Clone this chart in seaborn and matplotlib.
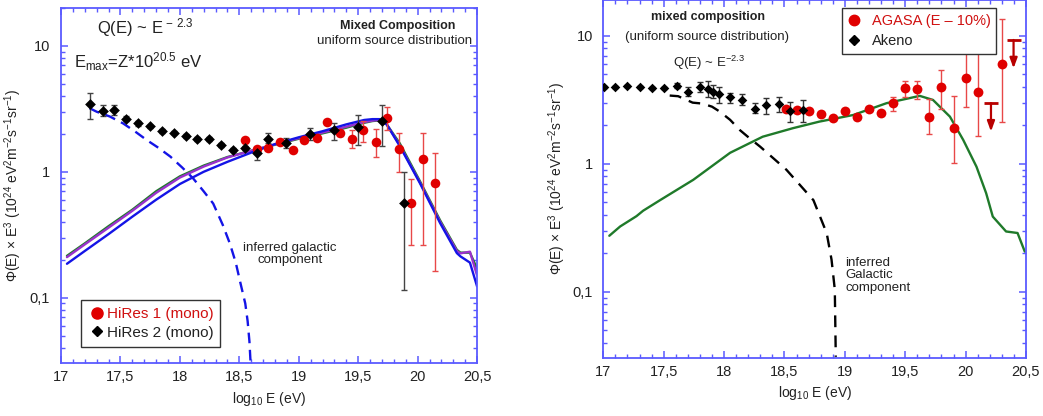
import matplotlib
matplotlib.use("Agg")
import numpy as np
import pandas as pd
import seaborn as sns
import matplotlib.pyplot as plt
from matplotlib.lines import Line2D
from matplotlib.ticker import MultipleLocator, LogLocator, FuncFormatter, NullFormatter

# ---------------- left panel: HiRes data and mixed-composition models ----------------
hires1_x = [18.548, 18.646, 18.744, 18.84, 18.95, 19.04, 19.15, 19.24, 19.35, 19.45,
            19.54, 19.65, 19.74, 19.845, 19.945, 20.047, 20.145]
hires1_y = [1.79, 1.51, 1.54, 1.74, 1.49, 1.79, 1.85, 2.49, 2.05, 1.82,
            2.13, 1.74, 2.66, 1.51, 0.565, 1.26, 0.81]
hires1_lo = [1.72, 1.45, 1.48, 1.67, 1.43, 1.72, 1.78, 2.40, 1.92, 1.54,
             1.74, 1.32, 2.15, 0.99, 0.26, 0.263, 0.162]
hires1_hi = [1.86, 1.57, 1.60, 1.81, 1.55, 1.86, 1.92, 2.58, 2.16, 2.13,
             2.51, 2.18, 3.30, 2.05, 0.875, 2.05, 1.42]

hires2_x = [17.244, 17.35, 17.446, 17.55, 17.648, 17.749, 17.85, 17.95, 18.049, 18.146,
            18.247, 18.343, 18.449, 18.548, 18.646, 18.744, 18.89, 19.094, 19.30, 19.50,
            19.697, 19.888]
hires2_y = [3.45, 3.06, 3.10, 2.65, 2.42, 2.29, 2.12, 2.05, 1.94, 1.82,
            1.82, 1.63, 1.49, 1.54, 1.41, 1.82, 1.69, 1.99, 2.13, 2.26,
            2.51, 0.565]
hires2_lo = [2.62, 2.75, 2.85, 2.55, 2.33, 2.21, 2.05, 1.98, 1.87, 1.75,
             1.75, 1.56, 1.43, 1.48, 1.245, 1.69, 1.54, 1.79, 1.79, 1.64,
             1.61, 0.116]
hires2_hi = [4.20, 3.42, 3.38, 2.75, 2.51, 2.37, 2.19, 2.12, 2.01, 1.89,
             1.89, 1.70, 1.55, 1.60, 1.54, 2.03, 1.85, 2.22, 2.46, 2.83,
             3.40, 1.0]

model_x = [17.05, 17.2, 17.4, 17.6, 17.8, 18.0, 18.2, 18.4, 18.6, 18.8,
           19.0, 19.2, 19.4, 19.55, 19.62, 19.68, 19.74, 19.85, 20.02, 20.19,
           20.33, 20.36, 20.44, 20.5]
model_green = [0.215, 0.27, 0.37, 0.50, 0.70, 0.92, 1.12, 1.31, 1.47, 1.64,
               1.83, 2.02, 2.24, 2.45, 2.53, 2.56, 2.38, 1.68, 0.84, 0.41,
               0.24, 0.228, 0.228, 0.17]
model_purple = [0.21, 0.265, 0.36, 0.49, 0.68, 0.90, 1.10, 1.30, 1.47, 1.65,
                1.85, 2.05, 2.28, 2.48, 2.55, 2.58, 2.38, 1.62, 0.82, 0.40,
                0.235, 0.225, 0.232, 0.15]
model_blue = [0.186, 0.235, 0.32, 0.44, 0.60, 0.80, 1.00, 1.20, 1.42, 1.66,
              1.88, 2.10, 2.38, 2.58, 2.62, 2.62, 2.38, 1.60, 0.81, 0.39,
              0.226, 0.213, 0.19, 0.123]

galL_x = [17.24, 17.3, 17.41, 17.52, 17.62, 17.72, 17.82, 17.92, 18.02, 18.11,
          18.2, 18.28, 18.36, 18.42, 18.47, 18.51, 18.55, 18.57, 18.585, 18.595]
galL_y = [3.2, 3.0, 2.75, 2.43, 2.1, 1.79, 1.55, 1.32, 1.08, 0.89,
          0.70, 0.56, 0.38, 0.27, 0.19, 0.13, 0.09, 0.065, 0.045, 0.03]

# ---------------- right panel: AGASA / Akeno ----------------
akeno_x = [17.005, 17.10, 17.20, 17.30, 17.405, 17.50, 17.607, 17.70, 17.80, 17.868,
           17.91, 17.957, 18.048, 18.15, 18.255, 18.345, 18.453, 18.55, 18.654]
akeno_y = [3.97, 3.97, 4.07, 3.97, 3.90, 3.90, 4.09, 3.63, 4.02, 3.85,
           3.67, 3.50, 3.32, 3.16, 2.67, 2.89, 2.94, 2.61, 2.64]
akeno_lo = [3.90, 3.90, 4.00, 3.90, 3.83, 3.83, 3.95, 3.40, 3.63, 3.36,
            3.30, 2.98, 3.01, 2.89, 2.49, 2.46, 2.56, 2.12, 2.14]
akeno_hi = [4.04, 4.04, 4.14, 4.04, 3.97, 3.97, 4.25, 3.98, 4.39, 4.47,
            4.10, 3.98, 3.60, 3.50, 2.98, 3.26, 3.32, 3.06, 3.16]

agasa_x = [18.51, 18.605, 18.70, 18.80, 18.90, 19.005, 19.10, 19.203, 19.30, 19.40,
           19.50, 19.60, 19.70, 19.80, 19.90, 20.00, 20.10, 20.30]
agasa_y = [2.67, 2.64, 2.59, 2.44, 2.30, 2.59, 2.32, 2.69, 2.49, 3.01,
           3.92, 3.85, 2.34, 4.02, 1.92, 4.67, 3.67, 5.99]
agasa_lo = [2.60, 2.57, 2.52, 2.37, 2.23, 2.52, 2.25, 2.62, 2.42, 2.60,
            3.36, 3.20, 1.72, 2.69, 1.01, 2.80, 1.66, 2.14]
agasa_hi = [2.74, 2.71, 2.66, 2.51, 2.37, 2.66, 2.39, 2.76, 2.56, 3.36,
            4.47, 4.47, 3.22, 5.42, 3.42, 9.0, 8.0, 13.6]

agasa_ul_x = [20.21, 20.397]
agasa_ul_y = [2.98, 9.3]

modelR_x = [17.05, 17.14, 17.275, 17.33, 17.47, 17.745, 18.05, 18.32, 18.57, 18.79,
            19.07, 19.345, 19.62, 19.73, 19.87, 19.98, 20.09, 20.17, 20.225, 20.335,
            20.43, 20.49]
modelR_y = [0.274, 0.324, 0.39, 0.43, 0.52, 0.75, 1.22, 1.63, 1.90, 2.14,
            2.41, 2.98, 3.40, 3.16, 2.34, 1.54, 0.95, 0.59, 0.387, 0.296,
            0.288, 0.206]

galR_x = [17.55, 17.62, 17.69, 17.74, 17.82, 17.90, 17.965, 18.05, 18.13, 18.21,
          18.30, 18.516, 18.74, 18.85, 18.89, 18.917, 18.925]
galR_y = [3.42, 3.38, 3.16, 3.01, 2.96, 2.80, 2.56, 2.21, 1.84, 1.59,
          1.36, 0.90, 0.52, 0.287, 0.178, 0.104, 0.031]

# ---------------- style ----------------
sns.set_style("ticks")
plt.rcParams["font.family"] = ["Liberation Sans", "DejaVu Sans"]
plt.rcParams["mathtext.fontset"] = "custom"
plt.rcParams["mathtext.rm"] = "Liberation Sans"
plt.rcParams["mathtext.it"] = "Liberation Sans:italic"
plt.rcParams["mathtext.bf"] = "Liberation Sans:bold"

FRAME = "#5a5aff"
TXT = "#222222"
RED = "#e00000"
RED_ERR = "#e84848"
DARK_RED = "#b80000"
GREEN = "#1f7a2a"
PURPLE = "#9a32cc"
BLUE = "#1414e6"

fig = plt.figure(figsize=(10.43, 4.16), dpi=100)
axL = fig.add_axes([0.0585, 0.1274, 0.3989, 0.8534])
axR = fig.add_axes([0.5784, 0.1401, 0.4053, 0.8599])

comma = FuncFormatter(lambda v, p: f"{v:g}".replace(".", ","))


def style_axes(ax, ylim, ypad):
    ax.set_yscale("log")
    ax.set_xlim(17, 20.5)
    ax.set_ylim(*ylim)
    ax.xaxis.set_major_locator(MultipleLocator(0.5))
    ax.xaxis.set_minor_locator(MultipleLocator(0.1))
    ax.xaxis.set_major_formatter(comma)
    ax.yaxis.set_major_locator(LogLocator(base=10))
    ax.yaxis.set_minor_locator(LogLocator(base=10, subs=np.arange(2, 10)))
    ax.yaxis.set_major_formatter(comma)
    ax.yaxis.set_minor_formatter(NullFormatter())
    for s in ax.spines.values():
        s.set_visible(True)
        s.set_color(FRAME)
        s.set_linewidth(1.3)
    ax.tick_params(which="both", direction="in", top=True, right=True,
                   color=FRAME, labelcolor=TXT, labelsize=10.5)
    ax.tick_params(which="major", length=5, width=1.1)
    ax.tick_params(which="minor", length=3, width=1.0)
    ax.tick_params(axis="x", which="major", pad=5)
    ax.tick_params(axis="y", which="major", pad=ypad)
    ax.set_xlabel(r"log$_{10}$ E (eV)", fontsize=10, color=TXT, labelpad=4)


def draw_errors(ax, x, y, lo, hi, color):
    y = np.asarray(y)
    err = np.vstack([y - np.asarray(lo), np.asarray(hi) - y])
    ax.errorbar(x, y, yerr=err, fmt="none", ecolor=color, elinewidth=1.0,
                capsize=2.5, capthick=1.0, zorder=3)


# ---------------- left panel ----------------
style_axes(axL, (0.0303, 20.0), 8)
axL.set_ylabel(r"$\Phi$(E) $\times$ E$^3$ (10$^{24}$ eV$^2$m$^{-2}$s$^{-1}$sr$^{-1}$)",
               fontsize=10, color=TXT, labelpad=4)

for vals, col in [(model_green, GREEN), (model_purple, PURPLE), (model_blue, BLUE)]:
    sns.lineplot(x=model_x, y=vals, ax=axL, color=col, lw=1.7, sort=False,
                 estimator=None, zorder=2)
sns.lineplot(x=galL_x, y=galL_y, ax=axL, color=BLUE, lw=1.7, sort=False,
             estimator=None, zorder=2, linestyle=(0, (4.5, 2.8)))

draw_errors(axL, hires1_x, hires1_y, hires1_lo, hires1_hi, RED_ERR)
draw_errors(axL, hires2_x, hires2_y, hires2_lo, hires2_hi, "#444444")
sns.scatterplot(x=hires1_x, y=hires1_y, ax=axL, color=RED, s=48, marker="o",
                linewidth=0, zorder=4)
sns.scatterplot(x=hires2_x, y=hires2_y, ax=axL, color="black", s=30, marker="D",
                linewidth=0, zorder=5)

axL.text(0.087, 0.944, r"Q(E) ~ E$^{\,-\,2.3}$", transform=axL.transAxes,
         fontsize=12, color=TXT, va="center", ha="left")
axL.text(0.031, 0.848, r"E$_{\rm max}$=Z*10$^{20.5}$ eV", transform=axL.transAxes,
         fontsize=12, color=TXT, va="center", ha="left")
axL.text(0.947, 0.949, "Mixed Composition", transform=axL.transAxes,
         fontsize=9, fontweight="bold", color=TXT, va="center", ha="right")
axL.text(0.988, 0.907, "uniform source distribution", transform=axL.transAxes,
         fontsize=9.5, color=TXT, va="center", ha="right")
axL.text(0.55, 0.307, "inferred galactic\ncomponent", transform=axL.transAxes,
         fontsize=9.5, color=TXT, va="center", ha="center", linespacing=1.05)

hL = [Line2D([], [], ls="none", marker="o", color=RED, markersize=8),
      Line2D([], [], ls="none", marker="D", color="black", markersize=5)]
legL = axL.legend(hL, ["HiRes 1 (mono)", "HiRes 2 (mono)"], loc="lower left",
                  bbox_to_anchor=(0.047, 0.046), borderaxespad=0, fontsize=11,
                  frameon=True, fancybox=False, edgecolor="#333333",
                  handlelength=1.19, handletextpad=0.06, labelspacing=0.3,
                  borderpad=0.45, framealpha=1.0)
legL.get_frame().set_linewidth(1.0)
legL.get_texts()[0].set_color("#d01010")
legL.get_texts()[1].set_color(TXT)

# ---------------- right panel ----------------
style_axes(axR, (0.0305, 19.1), 7.5)
axR.set_ylabel(r"$\Phi$(E) $\times$ E$^3$ (10$^{24}$ eV$^2$m$^{-2}$s$^{-1}$sr$^{-1}$)",
               fontsize=10, color=TXT, labelpad=3)

sns.lineplot(x=modelR_x, y=modelR_y, ax=axR, color=GREEN, lw=1.7, sort=False,
             estimator=None, zorder=2)
sns.lineplot(x=galR_x, y=galR_y, ax=axR, color="black", lw=1.7, sort=False,
             estimator=None, zorder=2, linestyle=(0, (5, 3.5)))

draw_errors(axR, agasa_x, agasa_y, agasa_lo, agasa_hi, RED_ERR)
draw_errors(axR, akeno_x, akeno_y, akeno_lo, akeno_hi, "#333333")
sns.scatterplot(x=agasa_x, y=agasa_y, ax=axR, color=RED, s=50, marker="o",
                linewidth=0, zorder=4)
sns.scatterplot(x=akeno_x, y=akeno_y, ax=axR, color="black", s=24, marker="D",
                linewidth=0, zorder=5)

# upper limits: bar at the limit, arrow pointing down
ARROW_FRAC = 0.6
sns.scatterplot(x=agasa_ul_x, y=agasa_ul_y, ax=axR, color=DARK_RED, s=110,
                marker="_", linewidth=2.0, zorder=4)
for ux, uy in zip(agasa_ul_x, agasa_ul_y):
    axR.annotate("", xy=(ux, uy * ARROW_FRAC), xytext=(ux, uy),
                 arrowprops=dict(arrowstyle="-|>,head_width=0.22,head_length=0.6",
                                 color=DARK_RED, lw=1.6, shrinkA=0, shrinkB=0),
                 zorder=4)

axR.text(0.248, 0.952, "mixed composition", transform=axR.transAxes,
         fontsize=9, fontweight="bold", color=TXT, va="center", ha="center")
axR.text(0.246, 0.897, "(uniform source distribution)", transform=axR.transAxes,
         fontsize=9.5, color=TXT, va="center", ha="center")
axR.text(0.25, 0.824, r"Q(E) ~ E$^{-2.3}$", transform=axR.transAxes,
         fontsize=9.5, color=TXT, va="center", ha="center")
axR.text(0.572, 0.231, "inferred\nGalactic\ncomponent", transform=axR.transAxes,
         fontsize=9.5, color=TXT, va="center", ha="left", linespacing=1.05)

hR = [Line2D([], [], ls="none", marker="o", color=RED, markersize=7.5),
      Line2D([], [], ls="none", marker="D", color="black", markersize=5)]
legR = axR.legend(hR, ["AGASA (E \u2013 10%)", "Akeno"], loc="upper left",
                  bbox_to_anchor=(0.565, 0.977), borderaxespad=0, fontsize=10.5,
                  frameon=True, fancybox=False, edgecolor="#333333",
                  handlelength=0.81, handletextpad=0.81, labelspacing=0.4,
                  borderpad=0.4, framealpha=1.0)
legR.get_frame().set_linewidth(1.0)
legR.set_zorder(10)
legR.get_texts()[0].set_color("#d01010")
legR.get_texts()[1].set_color(TXT)

fig.savefig("out.png", dpi=100)
